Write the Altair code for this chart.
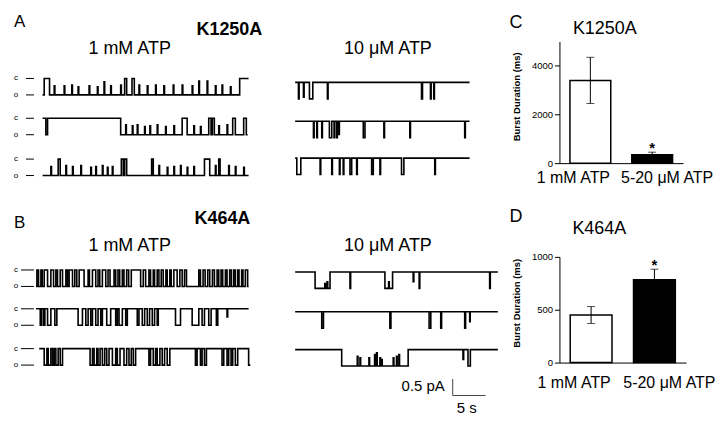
import altair as alt
import pandas as pd

FONT = "Liberation Sans"

# ---------------- single-channel traces (events: start s, end s, fraction of unitary step) ----
A_1mM_1 = [(0.25, 1.06, 1.0), (1.77, 1.87, 0.55), (3.28, 3.38, 0.55), (4.44, 4.54, 0.6), (5.40, 5.50, 0.5),
           (7.07, 7.17, 0.55), (8.33, 8.43, 0.5), (9.34, 9.44, 0.8), (10.35, 10.45, 0.55), (11.87, 11.97, 0.6),
           (12.47, 12.78, 1.0), (13.59, 13.94, 1.0), (14.65, 14.75, 0.6), (15.91, 16.01, 0.55), (17.17, 17.27, 0.6),
           (18.43, 18.53, 0.55), (19.85, 19.95, 0.6), (21.21, 21.31, 0.6), (22.73, 22.83, 0.55), (23.74, 23.84, 0.85),
           (25.00, 25.10, 0.85), (26.26, 26.36, 0.55), (27.27, 27.37, 0.6), (28.54, 28.64, 0.5), (29.95, 31.30, 1.0)]
A_1mM_2 = [(0.0, 0.5, 1.0), (0.76, 11.87, 1.0), (12.63, 12.73, 0.6), (13.64, 13.74, 0.55), (14.39, 14.49, 0.6),
           (15.50, 15.60, 0.5), (16.31, 16.41, 0.55), (17.42, 17.52, 0.6), (18.69, 18.79, 0.5), (19.95, 20.05, 0.55),
           (21.21, 21.97, 1.0), (22.98, 23.08, 0.55), (23.99, 24.09, 0.5), (25.25, 25.60, 1.0), (25.80, 26.10, 1.0),
           (26.77, 26.87, 0.55), (28.03, 28.13, 0.6), (28.89, 29.29, 1.0), (30.56, 30.96, 1.0)]
A_1mM_3 = [(1.26, 1.36, 0.55), (2.37, 2.68, 1.0), (3.54, 3.64, 0.6), (4.55, 4.65, 0.55), (5.81, 5.91, 0.6),
           (7.32, 7.42, 0.5), (8.08, 8.18, 0.55), (9.09, 9.19, 0.6), (9.85, 9.95, 0.5), (10.60, 10.70, 0.55),
           (11.97, 12.27, 1.0), (12.47, 12.78, 1.0), (16.57, 16.82, 1.0), (17.68, 17.78, 0.6), (18.94, 19.04, 0.5),
           (19.95, 20.05, 0.55), (20.96, 21.06, 0.6), (21.97, 22.07, 0.5), (22.98, 23.08, 0.55), (24.60, 25.40, 1.0),
           (26.26, 26.36, 0.6), (26.77, 26.97, 1.0), (28.28, 28.38, 0.6), (29.29, 29.39, 0.55), (30.56, 30.66, 0.5)]
A_10uM_1 = [(0.50, 0.60, 1.0), (1.26, 1.36, 0.9), (2.17, 2.68, 1.0), (4.90, 5.00, 1.0), (19.20, 19.35, 1.0),
            (20.56, 20.66, 1.0), (21.06, 21.16, 1.0)]
A_10uM_2 = [(2.78, 2.88, 1.0), (3.28, 3.38, 1.0), (4.04, 4.14, 1.0), (5.20, 5.56, 1.0), (5.91, 6.01, 1.0),
            (6.31, 6.41, 1.0), (6.62, 6.72, 0.8), (10.35, 10.61, 1.0), (13.48, 13.58, 1.0), (17.42, 17.52, 1.0),
            (25.76, 25.86, 1.0)]
A_10uM_3 = [(0.25, 0.86, 1.0), (3.79, 3.89, 1.0), (5.56, 5.66, 1.0), (6.72, 6.82, 1.0), (7.30, 7.40, 1.0),
            (8.33, 8.59, 1.0), (9.34, 9.44, 1.0), (11.62, 11.87, 1.0), (12.88, 12.98, 1.0), (16.16, 16.52, 1.0),
            (21.21, 21.31, 1.0)]
B_1mM_1 = [(0.15, 0.40, 1.0), (0.76, 0.96, 1.0), (1.26, 1.77, 1.0), (2.27, 2.68, 1.0), (3.03, 3.28, 1.0),
           (3.69, 4.04, 1.0), (4.55, 4.80, 1.0), (5.05, 5.56, 1.0), (5.91, 6.21, 1.0), (6.57, 7.32, 1.0),
           (7.93, 8.13, 1.0), (8.59, 9.09, 1.0), (9.44, 9.70, 1.0), (10.10, 10.61, 1.0), (10.96, 11.26, 1.0),
           (11.87, 12.12, 1.0), (12.47, 12.73, 1.0), (13.13, 13.38, 1.0), (13.79, 14.09, 1.0), (14.49, 15.91, 1.0),
           (16.31, 16.67, 1.0), (17.17, 17.42, 1.0), (17.83, 18.03, 1.0), (18.43, 18.69, 1.0), (19.04, 19.34, 1.0),
           (19.75, 19.95, 1.0), (20.35, 20.56, 1.0), (20.96, 21.46, 1.0), (21.87, 22.22, 1.0), (22.58, 22.88, 1.0),
           (24.75, 25.00, 1.0), (25.40, 25.71, 1.0), (26.11, 26.41, 1.0), (26.82, 27.12, 1.0), (27.53, 27.78, 1.0),
           (28.13, 28.38, 1.0), (28.79, 29.04, 1.0), (29.44, 29.70, 1.0), (30.05, 30.30, 1.0), (30.66, 30.86, 1.0),
           (31.26, 31.46, 1.0), (31.82, 32.17, 1.0)]
B_1mM_2 = [(0.66, 0.86, 1.0), (1.16, 1.36, 1.0), (1.77, 2.27, 1.0), (2.88, 3.18, 1.0), (6.41, 7.07, 1.0),
           (7.58, 7.93, 1.0), (8.33, 8.59, 1.0), (9.09, 9.44, 1.0), (9.85, 10.10, 1.0), (10.76, 11.36, 1.0),
           (12.12, 12.37, 1.0), (12.63, 13.13, 1.0), (13.64, 13.89, 1.0), (15.40, 15.66, 1.0), (16.16, 16.52, 1.0),
           (16.92, 17.27, 1.0), (17.68, 18.03, 1.0), (18.43, 18.59, 1.0), (21.21, 21.97, 1.0), (23.74, 24.75, 1.0),
           (25.25, 25.61, 1.0), (26.26, 26.62, 1.0), (27.42, 27.63, 1.0), (29.04, 29.14, 0.5)]
B_1mM_3 = [(1.26, 1.67, 1.0), (1.87, 2.27, 1.0), (2.53, 2.78, 1.0), (3.03, 3.38, 1.0), (3.69, 4.04, 1.0),
           (8.23, 8.59, 1.0), (8.84, 9.24, 1.0), (9.44, 9.75, 1.0), (10.10, 10.45, 1.0), (10.76, 11.11, 1.0),
           (11.62, 12.12, 1.0), (12.37, 12.78, 1.0), (13.38, 13.79, 1.0), (14.14, 14.49, 1.0), (14.80, 15.15, 1.0),
           (17.17, 17.42, 1.0), (17.83, 18.18, 1.0), (18.43, 18.84, 1.0), (19.19, 19.55, 1.0), (19.95, 20.35, 1.0),
           (24.24, 24.49, 1.0), (25.00, 25.25, 1.0), (25.61, 25.91, 1.0), (28.28, 28.54, 1.0), (29.04, 29.29, 1.0),
           (29.65, 29.90, 1.0), (30.30, 30.66, 1.0), (32.32, 32.58, 1.0)]
B_10uM_1 = [(3.03, 4.50, 1.0), (4.50, 4.60, 0.7), (4.60, 4.85, 1.0), (4.85, 4.95, 0.6), (4.95, 5.30, 1.0),
            (8.33, 8.43, 1.0), (13.64, 14.20, 1.0), (14.20, 14.30, 0.6), (14.30, 14.80, 1.0), (17.93, 18.03, 0.6),
            (18.84, 18.94, 1.0), (29.55, 29.65, 1.0)]
B_10uM_2 = [(4.04, 4.30, 1.0), (14.39, 14.55, 1.0), (20.35, 20.61, 1.0), (22.12, 22.25, 1.0), (25.76, 25.90, 1.0),
            (26.52, 26.60, 0.6)]
B_10uM_3 = [(7.07, 9.44, 1.0), (9.44, 9.54, 0.4), (9.54, 9.85, 1.0), (9.85, 9.95, 0.5), (9.95, 11.21, 1.0),
            (11.21, 11.31, 0.5), (11.31, 12.07, 1.0), (12.07, 12.17, 0.3), (12.17, 12.37, 1.0), (12.37, 12.47, 0.2),
            (12.47, 12.88, 1.0), (12.88, 12.98, 0.5), (12.98, 13.13, 1.0), (13.13, 13.23, 0.6), (13.23, 14.90, 1.0),
            (14.90, 15.00, 0.5), (15.00, 15.40, 1.0), (15.40, 15.50, 0.4), (15.50, 15.76, 1.0), (15.76, 15.86, 0.3),
            (15.86, 17.17, 1.0), (25.50, 25.60, 0.6), (26.26, 26.62, 1.0)]

UNIT_PA = 0.5  # unitary current, pA

# name, events, column offset (s), closed level (pA), baseline state, start (s), end (s)
trace_specs = [
    ("A1", A_1mM_1, 5.1, 10.24, "o", 0.0, 31.30),
    ("A2", A_1mM_2, 5.1, 9.03, "o", 0.0, 31.16),
    ("A3", A_1mM_3, 5.1, 7.79, "o", 0.0, 31.30),
    ("A4", A_10uM_1, 43.48, 10.12, "c", 0.0, 26.50),
    ("A5", A_10uM_2, 43.48, 8.94, "c", 0.0, 26.50),
    ("A6", A_10uM_3, 43.48, 7.82, "c", 0.0, 26.50),
    ("B1", B_1mM_1, 4.09, 4.42, "o", 0.0, 32.32),
    ("B2", B_1mM_2, 4.09, 3.24, "c", 0.0, 32.32),
    ("B3", B_1mM_3, 4.09, 2.03, "c", 0.5, 32.58),
    ("B4", B_10uM_1, 43.48, 4.36, "c", 0.0, 30.80),
    ("B5", B_10uM_2, 43.48, 3.15, "c", 0.0, 30.80),
    ("B6", B_10uM_3, 43.48, 2.00, "c", 0.0, 30.80),
]

rows = []
for name, events, off, closed, base_state, t_start, t_end in trace_specs:
    base = closed if base_state == "c" else closed - UNIT_PA
    direction = -1.0 if base_state == "c" else 1.0
    pts = [(t_start, base)]
    cur = base
    for j, (t0, t1, amp) in enumerate(events):
        lvl = base + direction * amp * UNIT_PA
        if t0 <= t_start:
            pts = [(t_start, lvl)]
        else:
            pts.append((t0, cur))
            pts.append((t0, lvl))
        pts.append((min(t1, t_end), lvl))
        cur = lvl
        nxt = events[j + 1] if j + 1 < len(events) else None
        if (nxt is None or nxt[0] > t1 + 1e-6) and t1 < t_end:
            pts.append((t1, base))
            cur = base
    pts.append((t_end, cur))
    for k, (t, i) in enumerate(pts):
        rows.append({"trace": name, "k": k, "t": off + t, "i": i})
trace_df = pd.DataFrame(rows)

# c / o level markers (left of 1 mM traces)
co_rows = []
for name, events, off, closed, base_state, t_start, t_end in trace_specs:
    if name in ("A1", "A2", "A3", "B1", "B2", "B3"):
        x0 = 2.58 if name.startswith("A") else 1.82
        co_rows.append({"lab": "c", "y": closed, "x0": x0, "x1": 3.79})
        co_rows.append({"lab": "o", "y": closed - UNIT_PA, "x0": x0, "x1": 3.79})
co_df = pd.DataFrame(co_rows)

# scale bar: 5 s, 0.5 pA
SB_T, SB_I = 67.42, 0.606
sb_df = pd.DataFrame([
    {"x": SB_T, "x2": SB_T + 5.0, "y": SB_I, "y2": SB_I},
    {"x": SB_T, "x2": SB_T, "y": SB_I, "y2": SB_I + 0.5},
])

PX_PER_S, PX_PER_PA = 6.6, 33.0
LW, LH = 500, 375   # plot area: page x 8..508, page y 40..415

xs = alt.Scale(domain=[0, LW / PX_PER_S], nice=False, zero=False)
ys = alt.Scale(domain=[0, LH / PX_PER_PA], nice=False, zero=False)

traces = alt.Chart(trace_df).mark_line(color="black", strokeWidth=1.6, interpolate="linear").encode(
    x=alt.X("t:Q", scale=xs, axis=None),
    y=alt.Y("i:Q", scale=ys, axis=None),
    detail="trace:N",
    order="k:Q",
)
co_rule = alt.Chart(co_df).mark_rule(color="black", strokeWidth=1).encode(
    x=alt.X("x0:Q", scale=xs, axis=None), x2="x1:Q", y=alt.Y("y:Q", scale=ys, axis=None))
co_text = alt.Chart(co_df).mark_text(fontSize=8, color="black", font=FONT, align="center",
                                     baseline="middle").encode(
    x=alt.value(7), y=alt.Y("y:Q", scale=ys, axis=None), text="lab:N")
sb = alt.Chart(sb_df).mark_rule(color="#444", strokeWidth=1).encode(
    x=alt.X("x:Q", scale=xs, axis=None), x2="x2:Q",
    y=alt.Y("y:Q", scale=ys, axis=None), y2="y2:Q")


def txt(s, x, y, size, bold=False, align="left"):
    return alt.Chart(pd.DataFrame({"s": [s]})).mark_text(
        fontSize=size, fontWeight="bold" if bold else "normal", align=align,
        baseline="alphabetic", color="black", font=FONT).encode(
        x=alt.value(x), y=alt.value(y), text="s:N")


left = alt.layer(
    traces, co_rule, co_text, sb,
    txt("A", 5, -15, 17),
    txt("K1250A", 221, -7, 18, True, "center"),
    txt("1 mM ATP", 121, 13, 18, False, "center"),
    txt("10 μM ATP", 380, 13, 18, False, "center"),
    txt("B", 5, 187, 17),
    txt("K464A", 214, 183, 18, True, "center"),
    txt("1 mM ATP", 121, 210, 18, False, "center"),
    txt("10 μM ATP", 380, 210, 18, False, "center"),
    txt("0.5 pA", 437, 351, 15, False, "right"),
    txt("5 s", 459, 373, 15, False, "center"),
).properties(width=LW, height=LH)

# ---------------- bar charts ----------------
conds = ["1 mM ATP", "5-20 μM ATP"]
k1250a_mean = [3400, 340]
k1250a_sem = [950, 110]
k464a_mean = [450, 783]
k464a_sem = [80, 100]
stars = ["", "*"]


def bar_panel(means, sems, ymax, yvals, w, h, letter, title, letter_y, title_x, title_y,
              lab_pad, ax_title_y, pin_top, pin_bottom):
    df = pd.DataFrame({"cond": conds, "mean": means,
                       "lo": [m - s for m, s in zip(means, sems)],
                       "hi": [m + s for m, s in zip(means, sems)],
                       "star": stars})
    xenc = alt.X("cond:N", sort=conds,
                 scale=alt.Scale(paddingInner=0.34, paddingOuter=0.17),
                 axis=alt.Axis(title=None, ticks=False, labelAngle=0, labelFontSize=16,
                               labelPadding=lab_pad, labelColor="black", domainColor="black",
                               labelFont=FONT,
                               labelOffset={"condition": {"test": "datum.value == '1 mM ATP'", "value": -17},
                                            "value": 15}))
    yscale = alt.Scale(domain=[0, ymax], nice=False)
    base = alt.Chart(df)
    bars = base.mark_bar(stroke="black", strokeWidth=1.5).encode(
        x=xenc,
        y=alt.Y("mean:Q", scale=yscale,
                axis=alt.Axis(values=yvals, format="d", title="Burst Duration (ms)", titleFontSize=9.5,
                              titleFontWeight="bold", titleColor="black", titleX=-38, titleY=ax_title_y,
                              labelFontSize=9.5, labelColor="black", tickColor="black",
                              domainColor="black", tickSize=5, labelPadding=2, grid=False,
                              labelFont=FONT, titleFont=FONT,
                              labelExpr="datum.value % 500 == 0 ? datum.label : ''")),
        fill=alt.Fill("cond:N", scale=alt.Scale(domain=conds, range=["white", "black"]), legend=None),
    )
    err = base.mark_rule(color="black", strokeWidth=1).encode(x="cond:N", y="lo:Q", y2="hi:Q")
    cap_hi = base.mark_tick(color="black", thickness=1, size=8, orient="horizontal").encode(x="cond:N", y="hi:Q")
    cap_lo = base.mark_tick(color="black", thickness=1, size=8, orient="horizontal").encode(x="cond:N", y="lo:Q")
    star = base.mark_text(fontSize=15, fontWeight="bold", baseline="alphabetic", color="black", dy=1).encode(
        x="cond:N", y="hi:Q", text="star:N")
    pin = alt.Chart(pd.DataFrame({"p": [0]})).mark_rule(opacity=0, strokeWidth=0.1).encode(
        x=alt.value(-50), y=alt.value(pin_top), y2=alt.value(pin_bottom))
    return alt.layer(
        pin, bars, err, cap_hi, cap_lo, star,
        txt(letter, -50, letter_y, 18),
        txt(title, title_x, title_y, 18, False, "center"),
    ).properties(width=w, height=h)


C = bar_panel(k1250a_mean, k1250a_sem, 5000, [0, 2000, 4000], 124, 122, "C", "K1250A",
              -14, 45.5, -8, 6, 55, -32, 152)
D = bar_panel(k464a_mean, k464a_sem, 1000, [0, 250, 500, 750, 1000], 127, 106, "D", "K464A",
              -35, 40, -23, 12, 46, -50, 146)

right = alt.vconcat(C, D, spacing=12)

chart = alt.hconcat(left, right, spacing=0).properties(padding=0).configure(
    font=FONT).configure_view(stroke="transparent")

chart.save("out.html", embed_options={"renderer": "svg", "actions": False})
